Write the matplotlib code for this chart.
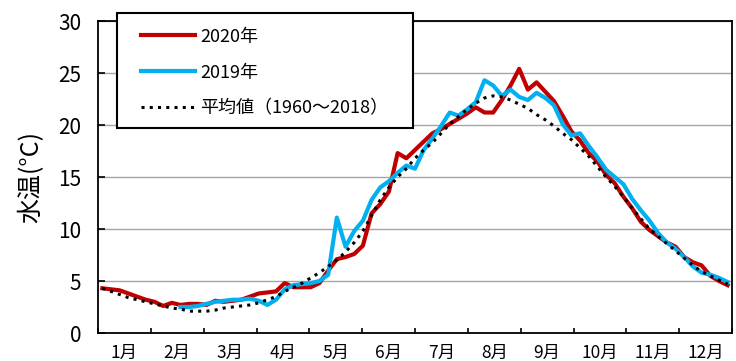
import matplotlib.pyplot as plt
import matplotlib.patches as mpatches
import numpy as np

plt.rcParams['font.family'] = ['Noto Sans CJK JP', 'DejaVu Sans']

# 半旬（5日）ごとの水温
pentad_day = np.arange(73) * 5 + 2.5

temp_2020 = [4.3, 4.2, 4.1, 3.8, 3.5, 3.2, 3.0, 2.6, 2.9, 2.7,
             2.8, 2.8, 2.7, 3.1, 3.0, 3.1, 3.2, 3.5, 3.8, 3.9,
             4.0, 4.8, 4.4, 4.4, 4.4, 4.8, 6.0, 7.1, 7.3, 7.6,
             8.4, 11.5, 12.4, 13.6, 17.3, 16.8, 17.6, 18.4, 19.2, 19.6,
             20.1, 20.6, 21.1, 21.7, 21.2, 21.2, 22.4, 23.8, 25.4, 23.4,
             24.1, 23.2, 22.3, 20.9, 19.4, 18.5, 17.3, 16.5, 15.2, 14.4,
             13.1, 12.0, 10.7, 9.9, 9.3, 8.7, 8.3, 7.3, 6.8, 6.5,
             5.5, 5.0, 4.6]

# 2019年は1月下旬から
start_2019 = 9
temp_2019 = [2.5, 2.5, 2.6, 2.8, 3.0, 3.1, 3.2, 3.2, 3.3, 3.1,
             2.7, 3.2, 4.2, 4.6, 4.7, 4.8, 5.0, 5.6, 11.1, 8.3,
             9.8, 10.8, 12.8, 14.0, 14.6, 15.4, 16.1, 15.8, 17.6, 18.7,
             19.9, 21.2, 20.9, 21.5, 22.2, 24.3, 23.8, 22.8, 23.4, 22.7,
             22.4, 23.1, 22.6, 21.9, 20.1, 19.0, 19.2, 18.0, 16.9, 15.7,
             15.0, 14.3, 12.9, 11.8, 10.8, 9.6, 8.7, 8.1, 7.3, 6.4,
             5.8, 5.6, 5.3, 4.9]

temp_avg = [4.3, 4.0, 3.7, 3.4, 3.2, 3.0, 2.8, 2.6, 2.4, 2.3,
            2.1, 2.1, 2.1, 2.2, 2.4, 2.5, 2.6, 2.7, 2.9, 3.2,
            3.5, 4.0, 4.4, 4.8, 5.3, 5.8, 6.4, 7.0, 7.8, 8.7,
            9.8, 11.3, 12.8, 14.0, 15.0, 15.8, 16.8, 17.6, 18.3, 19.2,
            20.1, 20.8, 21.5, 22.1, 22.6, 22.8, 22.7, 22.4, 22.0, 21.6,
            21.0, 20.5, 19.9, 19.2, 18.6, 17.8, 17.0, 16.0, 15.0, 14.1,
            13.1, 12.0, 11.0, 10.0, 9.3, 8.6, 7.9, 7.2, 6.5, 5.9,
            5.5, 5.1, 4.7]

months = [f"{m}月" for m in range(1, 13)]

fig = plt.figure(figsize=(7.36, 3.61), dpi=100)
ax = fig.add_axes([98 / 736, 1 - 333 / 361, 634 / 736, 312 / 361])

l20, = ax.plot(pentad_day, temp_2020, color="#C00000", lw=3.0, label="2020年", zorder=3)
l19, = ax.plot(pentad_day[start_2019:], temp_2019, color="#00B0F0", lw=3.0, label="2019年", zorder=4)
lav, = ax.plot(pentad_day, temp_avg, color="black", lw=2.2, ls=(0, (1, 1.7)),
               label="平均値（1960～2018）", zorder=5)

ax.set_xlim(0, 365)
ax.set_ylim(0, 30)
ax.set_yticks(range(0, 31, 5))
ax.yaxis.grid(True, color="#A6A6A6", lw=1.0)
ax.set_axisbelow(True)

bounds = np.arange(13) * 365 / 12
ax.set_xticks(bounds)
ax.set_xticklabels([])
ax.set_xticks((bounds[:-1] + bounds[1:]) / 2, minor=True)
ax.set_xticklabels(months, minor=True, fontsize=12.5)
ax.tick_params(axis="x", which="major", direction="in", length=3.5, width=1.2)
ax.tick_params(axis="x", which="minor", length=0, pad=8)
ax.tick_params(axis="y", direction="in", length=5, width=1.2, labelsize=15, pad=12)

for s in ax.spines.values():
    s.set_linewidth(1.3)
    s.set_color("black")

ax.set_ylabel("水温(°C)", fontsize=18, labelpad=10)

# 凡例の枠
box = mpatches.Rectangle((117 / 736, 1 - 128 / 361), 296 / 736, 115 / 361,
                         transform=fig.transFigure, facecolor="white",
                         edgecolor="black", lw=1.5, zorder=5)
fig.patches.append(box)
leg = fig.legend(handles=[l20, l19, lav], loc="upper left",
                 bbox_to_anchor=(128 / 736, 1 - 15 / 361), frameon=False,
                 fontsize=13, handlelength=3.0, handletextpad=0.3,
                 labelspacing=1.0, borderpad=0.2)
leg.set_zorder(6)

fig.savefig("out.png", dpi=100)
